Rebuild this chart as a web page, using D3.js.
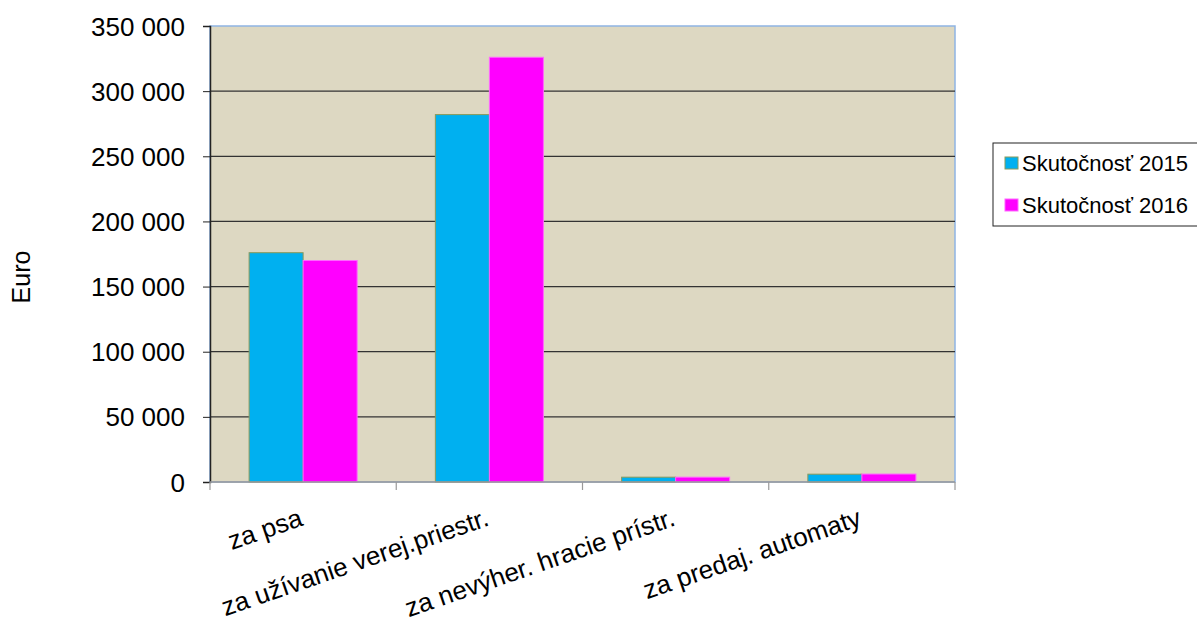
<!DOCTYPE html>
<html><head><meta charset="utf-8">
<script src="https://cdn.jsdelivr.net/npm/d3@7/dist/d3.min.js"></script>
<style>body{margin:0;background:#fff;} svg{display:block;font-family:"Liberation Sans",Arial,sans-serif;}</style>
</head><body>
<svg id="c" width="1197" height="628"></svg>
<script>
const categories = ["za psa", "za užívanie verej.priestr.", "za nevýher. hracie prístr.", "za predaj. automaty"];
const series = ["Skutočnosť 2015", "Skutočnosť 2016"];
const values2015 = [176000, 282000, 3700, 6000];
const values2016 = [170000, 326000, 3700, 6100];
const yTicks = [0, 50000, 100000, 150000, 200000, 250000, 300000, 350000];
const yTitle = "Euro";

const colors = ["#00b0f0", "#ff00ff"];
const strokes = ["#8a9a5b", "#ff66ff"];
const svg = d3.select("#c");
const L = 210, R = 955, T = 26, B = 482;

const x = d3.scaleBand().domain(categories).range([L, R]).paddingInner(0.42).paddingOuter(0.21);
const xs = d3.scaleBand().domain(series).range([0, x.bandwidth()]);
const y = d3.scaleLinear().domain([0, 350000]).range([B, T]);

// plot background
svg.append("rect").attr("x", L).attr("y", T).attr("width", R - L).attr("height", B - T)
  .attr("fill", "#ddd8c2").attr("stroke", "#8eb4e3").attr("stroke-width", 1.5);

// gridlines
svg.append("g").selectAll("line").data(yTicks.filter(d => d > 0 && d < 350000)).join("line")
  .attr("x1", L).attr("x2", R).attr("y1", d => y(d)).attr("y2", d => y(d))
  .attr("stroke", "#333").attr("stroke-width", 1.2);

// bars
const data = [values2015, values2016];
const g = svg.append("g");
series.forEach((s, si) => {
  g.selectAll(".b" + si).data(categories).join("rect")
    .attr("x", c => x(c) + xs(s))
    .attr("y", (c, i) => y(data[si][i]))
    .attr("width", xs.bandwidth())
    .attr("height", (c, i) => y(0) - y(data[si][i]))
    .attr("fill", colors[si]).attr("stroke", strokes[si]).attr("stroke-width", 1);
});

// y axis
const yAxis = d3.axisLeft(y).tickValues(yTicks).tickSize(7).tickPadding(18)
  .tickFormat(d => d3.format(",")(d).replace(/,/g, " "));
const ya = svg.append("g").attr("transform", `translate(${L},0)`).call(yAxis);
ya.select(".domain").attr("stroke", "#222").attr("stroke-width", 1.5);
ya.selectAll(".tick line").attr("stroke", "#222");
ya.selectAll("text").attr("font-size", 26).attr("fill", "#000")
  .attr("font-family", "Liberation Sans, Arial, sans-serif").attr("dy", "0.35em");

// x axis line and boundary ticks
svg.append("line").attr("x1", L).attr("x2", R).attr("y1", B).attr("y2", B)
  .attr("stroke", "#999").attr("stroke-width", 1.5);
const bounds = categories.map(c => x(c) - x.step() * x.paddingInner() / 2).concat([R]);
svg.append("g").selectAll("line").data(bounds).join("line")
  .attr("x1", d => d).attr("x2", d => d).attr("y1", B).attr("y2", B + 8)
  .attr("stroke", "#999").attr("stroke-width", 1.2);

// x labels
svg.append("g").selectAll("text").data(categories).join("text")
  .attr("transform", c => `translate(${x(c) + x.bandwidth() / 2 + 1},${B + 43}) rotate(-19)`)
  .attr("text-anchor", "end")
  .attr("font-size", 26).attr("fill", "#000").text(c => c);

// y title
svg.append("text").attr("transform", `translate(30,277) rotate(-90)`)
  .attr("text-anchor", "middle").attr("font-size", 25).attr("fill", "#000").text(yTitle);

// legend
const lg = svg.append("g");
lg.append("rect").attr("x", 993).attr("y", 143).attr("width", 210).attr("height", 83)
  .attr("fill", "#fff").attr("stroke", "#222").attr("stroke-width", 1);
series.forEach((s, i) => {
  const cy = 163 + i * 42;
  lg.append("rect").attr("x", 1005).attr("y", cy - 6).attr("width", 13).attr("height", 12)
    .attr("fill", colors[i]).attr("stroke", strokes[i]);
  lg.append("text").attr("x", 1022).attr("y", cy + 8)
    .attr("font-size", 22).attr("fill", "#000").text(s);
});
</script>
</body></html>
